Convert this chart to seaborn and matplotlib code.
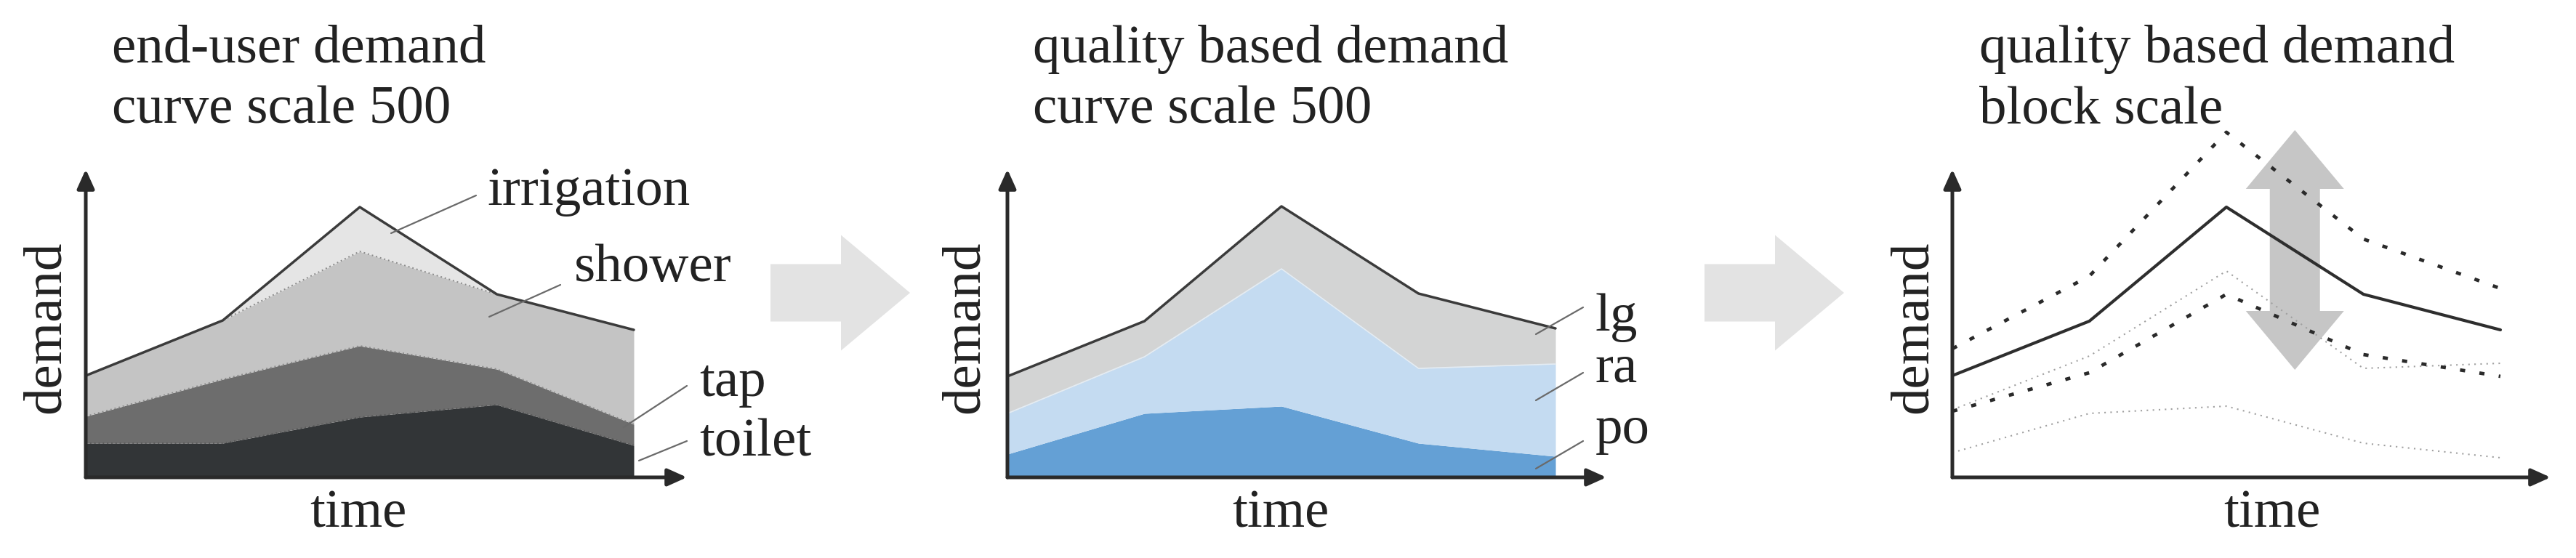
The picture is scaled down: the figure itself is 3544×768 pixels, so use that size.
import numpy as np
import pandas as pd
import seaborn as sns
import matplotlib.pyplot as plt
from matplotlib.patches import FancyArrow

# demand curves, arbitrary units, 5 time steps
time = [0, 1, 2, 3, 4]

# panel 1: end-user demand (stacked)
toilet = [4.7, 4.7, 8.3, 10.0, 4.4]
tap = [3.7, 8.8, 9.8, 4.9, 2.9]
shower = [5.6, 8.1, 13.0, 10.3, 13.0]
irrigation = [0.0, 0.0, 6.1, 0.0, 0.0]

# panel 2: quality based demand (stacked)
po = [3.2, 8.8, 9.8, 4.7, 2.9]
ra = [5.6, 7.8, 18.9, 10.3, 12.7]
lg = [5.1, 4.9, 8.6, 10.3, 4.9]

# panel 3: block scale
block_total = [14.0, 21.5, 37.2, 25.2, 20.3]
block_upper = [17.7, 27.7, 47.5, 32.8, 26.0]
block_lower = [9.1, 14.4, 25.2, 16.9, 13.9]
quality_ra_top = [9.3, 16.7, 28.4, 15.0, 15.7]
quality_po_top = [3.4, 8.8, 9.8, 4.7, 2.7]

sns.set_theme(style='white')
plt.rcParams['font.family'] = ['Liberation Serif', 'DejaVu Serif']

W, H = 3544, 768
fig = plt.figure(figsize=(W / 100, H / 100), dpi=100)
fig.patch.set_facecolor('white')

FS = 54
TXT = '#222222'
AX_COL = '#2a2a2a'
OUTLINE = '#3b3b3b'
LEADER = '#6a6a6a'

base_px, top_px = 657, 233
unit_px = 10.0
step_px = 188.5


def make_panel(left_px, right_px):
    ax = fig.add_axes([left_px / W, (H - base_px) / H,
                       (right_px - left_px) / W, (base_px - top_px) / H])
    ax.set_xlim(0, (right_px - left_px) / step_px)
    ax.set_ylim(0, (base_px - top_px) / unit_px)
    ax.set_axis_off()
    ax.patch.set_alpha(0)
    arrow = dict(arrowstyle='-|>,head_length=1.0,head_width=0.45', lw=3.6,
                 color=AX_COL, mutation_scale=16, shrinkA=0, shrinkB=0)
    ax.annotate('', xy=(1, 0), xytext=(0, 0), xycoords='axes fraction',
                arrowprops=arrow, annotation_clip=False, zorder=10)
    ax.annotate('', xy=(0, 1), xytext=(0, 0), xycoords='axes fraction',
                arrowprops=arrow, annotation_clip=False, zorder=10)
    return ax


# ---- panel 1 ----
ax1 = make_panel(118, 945)
ax1.stackplot(time, toilet, tap, shower, irrigation,
              colors=['#323537', '#6d6d6d', '#c4c4c4', '#e5e5e5'], lw=0)
cum1 = np.cumsum([toilet, tap, shower, irrigation], axis=0)
for layer, col in zip(cum1[:3], ['#5a5a5a', '#8a8a8a', '#8a8a8a']):
    ax1.plot(time, layer, color=col, lw=1.4, linestyle=(0, (1, 2)))
sns.lineplot(x=time, y=cum1[-1], ax=ax1, color=OUTLINE, lw=2.5)

# ---- panel 2 ----
ax2 = make_panel(1386, 2210)
ax2.stackplot(time, po, ra, lg, colors=['#64a0d5', '#c4dbf1', '#d3d4d4'], lw=0)
cum2 = np.cumsum([po, ra, lg], axis=0)
ax2.plot(time, cum2[1], color='#e4ecf3', lw=1.2)
sns.lineplot(x=time, y=cum2[-1], ax=ax2, color=OUTLINE, lw=2.5)

# ---- panel 3 ----
ax3 = make_panel(2686, 3509)
x_mid = 2.5
y_top, y_bot = 47.8, 14.8
y_mid = (y_top + y_bot) / 2
for dy in (y_top - y_mid, y_bot - y_mid):
    ax3.add_patch(FancyArrow(x_mid, y_mid, 0, dy, width=0.366, head_width=0.716,
                             head_length=8.1, length_includes_head=True,
                             fc='#c6c6c6', ec='none', zorder=1, clip_on=False))
sns.lineplot(x=time, y=quality_ra_top, ax=ax3, color='#a0a0a0', lw=1.5,
             linestyle=(0, (1, 3)), zorder=2)
sns.lineplot(x=time, y=quality_po_top, ax=ax3, color='#a0a0a0', lw=1.5,
             linestyle=(0, (1, 3)), zorder=2)
sns.lineplot(x=time, y=block_upper, ax=ax3, color='#2a2a2a', lw=3.4,
             linestyle=(0, (1.5, 4.2)), zorder=3, clip_on=False)
sns.lineplot(x=time, y=block_lower, ax=ax3, color='#2a2a2a', lw=3.4,
             linestyle=(0, (1.5, 4.2)), zorder=3)
sns.lineplot(x=time, y=block_total, ax=ax3, color='#2e2e2e', lw=3.0, zorder=4)

for ax, right_px, left_px in [(ax1, 945, 118), (ax2, 2210, 1386), (ax3, 3509, 2686)]:
    ax.set_xlim(0, (right_px - left_px) / step_px)
    ax.set_ylim(0, (base_px - top_px) / unit_px)
    ax.set_axis_off()

# ---- overlay in pixel coordinates for texts and block arrows ----
ov = fig.add_axes([0, 0, 1, 1], zorder=20)
ov.set_xlim(0, W)
ov.set_ylim(H, 0)
ov.set_axis_off()
ov.patch.set_alpha(0)

titles = [
    (154, ['end-user demand', 'curve scale 500']),
    (1421, ['quality based demand', 'curve scale 500']),
    (2723, ['quality based demand', 'block scale']),
]
for x, lines in titles:
    for line, yb in zip(lines, [86, 169]):
        ov.text(x, yb, line, fontsize=FS, color=TXT, ha='left', va='baseline')

for x in [493, 1762, 3126]:
    ov.text(x, 725, 'time', fontsize=FS, color=TXT, ha='center', va='baseline')
for x in [64, 1328, 2633]:
    ov.text(x, 450, 'demand', fontsize=FS, color=TXT, ha='center', va='center',
            rotation=90)

# layer labels with leader lines
labels = [
    ('irrigation', 670, 282, (538, 321), (655, 269)),
    ('shower', 790, 387, (673, 436), (771, 392)),
    ('tap', 962, 545, (858, 588), (945, 531)),
    ('toilet', 962, 627, (879, 634), (945, 607)),
    ('lg', 2195, 455, (2113, 460), (2178, 423)),
    ('ra', 2195, 525, (2113, 551), (2178, 513)),
    ('po', 2195, 610, (2113, 645), (2178, 607)),
]
for text, tx, ty, p0, p1 in labels:
    ov.text(tx, ty, text, fontsize=FS, color=TXT, ha='left', va='baseline')
    ov.plot([p0[0], p1[0]], [p0[1], p1[1]], color=LEADER, lw=1.6)

# block arrows between panels
for x0, x1 in [(1060, 1252), (2345, 2537)]:
    ov.add_patch(FancyArrow(x0, 403, x1 - x0, 0, width=79, head_width=159,
                            head_length=95, length_includes_head=True,
                            fc='#e3e3e3', ec='none'))

fig.savefig('out.png', dpi=100, facecolor='white')
